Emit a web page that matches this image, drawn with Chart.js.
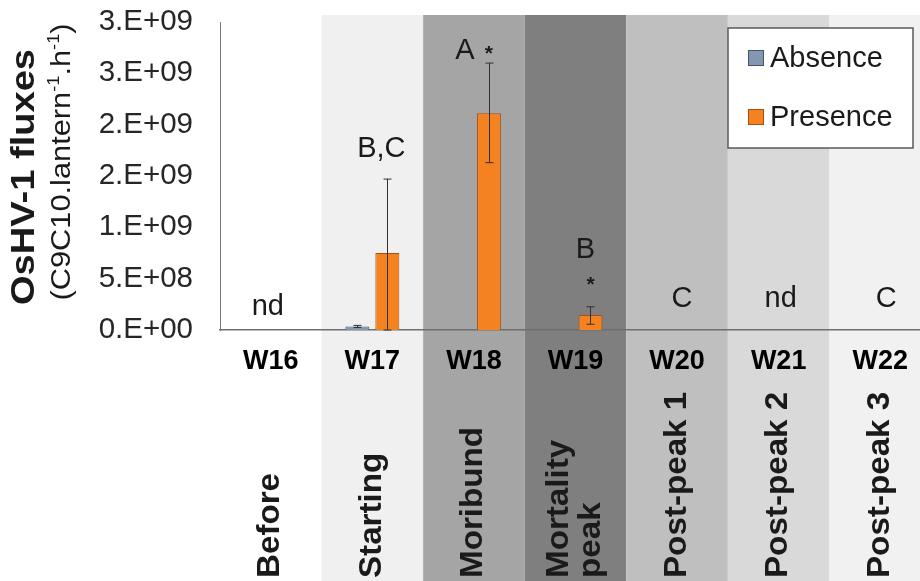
<!DOCTYPE html>
<html>
<head>
<meta charset="utf-8">
<script src="https://cdn.jsdelivr.net/npm/chart.js@4.4.1/dist/chart.umd.min.js"></script>
<style>
  html, body { margin: 0; padding: 0; overflow: hidden; background: #ffffff; }
  #wrap { width: 931px; height: 581px; }
</style>
</head>
<body>
<div id="wrap"><canvas id="c" width="931" height="581"></canvas></div>
<script>
// ---- data ----
const categories = ['W16', 'W17', 'W18', 'W19', 'W20', 'W21', 'W22'];
const phases = [['Before'], ['Starting'], ['Moribund'], ['Mortality', 'peak'], ['Post-peak 1'], ['Post-peak 2'], ['Post-peak 3']];
const absence = [0, 3.5e7, 0, 0, 0, 0, 0];
const absenceErr = [0, 1.0e7, 0, 0, 0, 0, 0];
const presence = [0, 7.5e8, 2.11e9, 1.46e8, 0, 0, 0];
const presenceErrUp = [0, 7.2e8, 4.9e8, 8.0e7, 0, 0, 0];
const presenceErrDown = [0, 7.5e8, 4.8e8, 9.0e7, 0, 0, 0];
const sigLetters = ['nd', 'B,C', 'A', 'B', 'C', 'nd', 'C'];
const sigStars = ['', '', '*', '*', '', '', ''];
const yTickLabels = ['0.E+00', '5.E+08', '1.E+09', '2.E+09', '2.E+09', '3.E+09', '3.E+09'];
const seriesNames = ['Absence', 'Presence'];

// ---- styles ----
const bandColors = ['#ffffff', '#f0f0f0', '#a5a5a5', '#7f7f7f', '#bfbfbf', '#d9d9d9', '#f1f1f1'];
const FONT = "'Liberation Sans', Arial, sans-serif";
const TXT = '#1a1a1a';
// annotation layout (pixel offsets from category centre / error-bar top)
const annLayout = [
  { dx: -3, gap: 15 },
  { dx: 9, gap: 22 },
  { dx: -9, gap: 4, sdx: 15, sdy: -3 },
  { dx: 10, gap: 49, sdx: 15, sdy: 29 },
  { dx: 5, gap: 23 },
  { dx: 2, gap: 23 },
  { dx: 6, gap: 23 }
];

const bandsPlugin = {
  id: 'bands',
  beforeDraw(chart) {
    const ctx = chart.ctx;
    const xs = chart.scales.x;
    const ca = chart.chartArea;
    ctx.save();
    ctx.fillStyle = '#ffffff';
    ctx.fillRect(0, 0, chart.width, chart.height);
    const w = (ca.right - ca.left) / categories.length;
    categories.forEach((c, i) => {
      const cx = xs.getPixelForValue(i);
      ctx.fillStyle = bandColors[i];
      ctx.fillRect(cx - w / 2, ca.top - 7, w, chart.height - ca.top + 7);
    });
    ctx.restore();
  }
};

const errorPlugin = {
  id: 'errs',
  afterDatasetsDraw(chart) {
    const ctx = chart.ctx;
    const ys = chart.scales.y;
    const sets = [
      { up: absenceErr, down: absenceErr, vals: absence },
      { up: presenceErrUp, down: presenceErrDown, vals: presence }
    ];
    ctx.save();
    ctx.strokeStyle = '#303030';
    ctx.lineWidth = 1;
    sets.forEach((s, di) => {
      const meta = chart.getDatasetMeta(di);
      meta.data.forEach((bar, i) => {
        if (!s.up[i] && !s.down[i]) return;
        const x = Math.round(bar.x) + 0.5;
        const yt = ys.getPixelForValue(s.vals[i] + s.up[i]);
        const yb = ys.getPixelForValue(Math.max(0, s.vals[i] - s.down[i]));
        ctx.beginPath();
        ctx.moveTo(x, yt); ctx.lineTo(x, yb);
        ctx.moveTo(x - 4, yt); ctx.lineTo(x + 4, yt);
        ctx.moveTo(x - 4, yb); ctx.lineTo(x + 4, yb);
        ctx.stroke();
      });
    });
    ctx.restore();
  }
};

const textPlugin = {
  id: 'texts',
  afterDraw(chart) {
    const ctx = chart.ctx;
    const xs = chart.scales.x;
    const ys = chart.scales.y;
    const ca = chart.chartArea;
    ctx.save();
    ctx.fillStyle = TXT;

    // significance letters & stars
    categories.forEach((c, i) => {
      const L = annLayout[i];
      const top = ys.getPixelForValue(presence[i] + presenceErrUp[i]);
      const cx = xs.getPixelForValue(i);
      const base = top - L.gap;
      ctx.font = '29px ' + FONT;
      ctx.textAlign = 'center';
      ctx.textBaseline = 'alphabetic';
      ctx.fillText(sigLetters[i], cx + L.dx, base);
      if (sigStars[i]) {
        ctx.font = 'bold 21px ' + FONT;
        ctx.fillText(sigStars[i], cx + L.sdx, base + L.sdy + 4);
      }
    });

    // phase labels (rotated)
    ctx.font = 'bold 31px ' + FONT;
    ctx.textAlign = 'left';
    ctx.textBaseline = 'middle';
    phases.forEach((lines, i) => {
      const cx = xs.getPixelForValue(i);
      const n = lines.length;
      lines.forEach((t, k) => {
        const x = cx + (k - (n - 1) / 2) * 32;
        ctx.save();
        ctx.translate(x, 578);
        ctx.rotate(-Math.PI / 2);
        ctx.scale(1.07, 1);
        ctx.fillText(t, 0, 0);
        ctx.restore();
      });
    });

    // y-axis title
    ctx.save();
    ctx.translate(25, 177);
    ctx.rotate(-Math.PI / 2);
    ctx.scale(1.12, 1);
    ctx.font = 'bold 34px ' + FONT;
    ctx.textAlign = 'center';
    ctx.textBaseline = 'middle';
    ctx.fillText('OsHV-1 fluxes', 0, 0);
    ctx.restore();

    // subtitle with superscripts
    ctx.save();
    ctx.translate(63, 162);
    ctx.rotate(-Math.PI / 2);
    ctx.scale(1.14, 1);
    ctx.textBaseline = 'middle';
    ctx.textAlign = 'left';
    const parts = [
      { t: '(C9C10.lantern', sup: false },
      { t: '-1', sup: true },
      { t: '.h', sup: false },
      { t: '-1', sup: true },
      { t: ')', sup: false }
    ];
    const fNorm = '27px ' + FONT, fSup = '16px ' + FONT;
    let total = 0;
    parts.forEach(p => { ctx.font = p.sup ? fSup : fNorm; total += ctx.measureText(p.t).width; });
    let px = -total / 2;
    parts.forEach(p => {
      ctx.font = p.sup ? fSup : fNorm;
      ctx.fillText(p.t, px, p.sup ? -8 : 0);
      px += ctx.measureText(p.t).width;
    });
    ctx.restore();

    // legend
    const lx = ca.right - 203, ly = ca.top + 6, lw = 185, lh = 120;
    ctx.fillStyle = '#ffffff';
    ctx.fillRect(lx, ly, lw, lh);
    ctx.strokeStyle = '#595959';
    ctx.lineWidth = 1.5;
    ctx.strokeRect(lx, ly, lw, lh);
    chart.data.datasets.forEach((ds, k) => {
      const cy = ly + 30 + k * 59;
      ctx.fillStyle = ds.backgroundColor;
      ctx.fillRect(lx + 20, cy - 8, 16, 16);
      ctx.strokeStyle = ds.borderColor;
      ctx.lineWidth = 1;
      ctx.strokeRect(lx + 20.5, cy - 7.5, 15, 15);
      ctx.fillStyle = TXT;
      ctx.font = '29px ' + FONT;
      ctx.textAlign = 'left';
      ctx.textBaseline = 'middle';
      ctx.fillText(ds.label, lx + 42, cy + 1);
    });
    ctx.restore();
  }
};

new Chart(document.getElementById('c'), {
  type: 'bar',
  data: {
    labels: categories,
    datasets: [
      { label: seriesNames[0], data: absence, backgroundColor: '#8497b0', borderColor: '#44546a', borderWidth: 1,
        barPercentage: 0.8, categoryPercentage: 0.59 },
      { label: seriesNames[1], data: presence, backgroundColor: '#f58220', borderColor: '#a8500e', borderWidth: 1,
        barPercentage: 0.8, categoryPercentage: 0.59 }
    ]
  },
  options: {
    responsive: false,
    animation: false,
    devicePixelRatio: 1,
    layout: { padding: { top: 22, left: 0, right: 0, bottom: 0 } },
    plugins: { legend: { display: false }, tooltip: { enabled: false } },
    scales: {
      x: {
        grid: { display: false, drawTicks: false },
        border: { display: true, color: '#6e6e6e', width: 1.5 },
        ticks: { color: '#000000', font: { family: FONT, size: 27, weight: 'bold' }, padding: 15,
                 maxRotation: 0, autoSkip: false },
        afterFit(s) { s.height = 251; s.paddingLeft = 0; s.paddingRight = 0; }
      },
      y: {
        min: 0, max: 3e9,
        grid: { display: false, drawTicks: false },
        border: { display: true, color: '#7a7a7a', width: 1 },
        ticks: { stepSize: 5e8, color: '#262626', font: { family: FONT, size: 29.5 }, padding: 27,
                 callback: (v, i) => yTickLabels[i] },
        afterFit(s) { s.width = 220; s.paddingTop = 0; s.paddingBottom = 0; }
      }
    }
  },
  plugins: [bandsPlugin, errorPlugin, textPlugin]
});
</script>
</body>
</html>
